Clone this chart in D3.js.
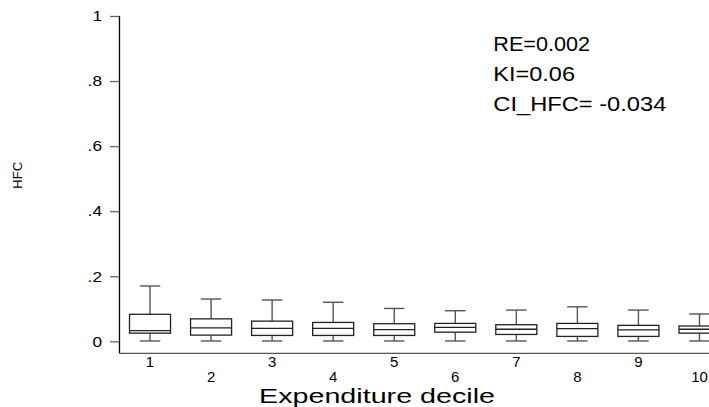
<!DOCTYPE html>
<html>
<head>
<meta charset="utf-8">
<script src="https://cdn.jsdelivr.net/npm/d3@7"></script>
<style>
  html, body { margin: 0; padding: 0; background: #fff; }
  svg { display: block; font-family: "Liberation Sans", Arial, sans-serif; }
</style>
</head>
<body>
<svg id="chart" width="709" height="407"></svg>
<script>
// ---- data ----
const deciles     = [1, 2, 3, 4, 5, 6, 7, 8, 9, 10];
const whiskerLow  = [0.001, 0.001, 0.001, 0.001, 0.001, 0.001, 0.001, 0.001, 0.001, 0.001];
const q1          = [0.025, 0.019, 0.018, 0.018, 0.018, 0.028, 0.021, 0.015, 0.015, 0.025];
const medians     = [0.033, 0.041, 0.040, 0.040, 0.036, 0.043, 0.037, 0.039, 0.035, 0.037];
const q3          = [0.083, 0.069, 0.062, 0.058, 0.054, 0.055, 0.051, 0.055, 0.049, 0.047];
const whiskerHigh = [0.170, 0.130, 0.127, 0.120, 0.101, 0.094, 0.096, 0.106, 0.096, 0.084];
const yTicks      = [0, 0.2, 0.4, 0.6, 0.8, 1];
const yTickLabels = ["0", ".2", ".4", ".6", ".8", "1"];
const annotations = ["RE=0.002", "KI=0.06", "CI_HFC= -0.034"];
const xTitle = "Expenditure decile";
const yTitle = "HFC";

const rows = deciles.map((d, i) => ({
  d, lo: whiskerLow[i], q1: q1[i], med: medians[i], q3: q3[i], hi: whiskerHigh[i]
}));

const svg = d3.select("#chart");

const x = d3.scaleBand()
  .domain(deciles)
  .range([119.5, 730])
  .paddingInner(0.328)
  .paddingOuter(0.164);

const y = d3.scaleLinear().domain([0, 1]).range([341.3, 16]);

const axisX0 = 119.5, axisY0 = 353.3;

// Y axis
const yAxis = d3.axisLeft(y)
  .tickValues(yTicks)
  .tickSize(9.5)
  .tickPadding(8)
  .tickFormat((d, i) => yTickLabels[i]);
const gy = svg.append("g").attr("transform", `translate(${axisX0},0)`).call(yAxis);
gy.select(".domain").remove();
gy.selectAll(".tick line").attr("stroke", "#666").attr("stroke-width", 1.3);
gy.selectAll(".tick text")
  .attr("font-size", 15).attr("fill", "#000")
  .attr("font-family", "Liberation Sans, Arial, sans-serif")
  .attr("transform", "scale(1.15,1)")
  .attr("x", -17.5 / 1.15);
svg.append("line")
  .attr("x1", axisX0).attr("x2", axisX0)
  .attr("y1", y(1)).attr("y2", axisY0)
  .attr("stroke", "#000").attr("stroke-width", 1.3);

// X axis
const xAxis = d3.axisBottom(x).tickSize(0).tickPadding(4);
const gx = svg.append("g").attr("transform", `translate(0,${axisY0})`).call(xAxis);
gx.select(".domain").remove();
gx.selectAll(".tick text")
  .attr("font-size", 15).attr("fill", "#000")
  .attr("font-family", "Liberation Sans, Arial, sans-serif")
  .attr("dy", null)
  .attr("y", (d, i) => i % 2 === 0 ? 13.6 : 28.8);
svg.append("line")
  .attr("x1", axisX0).attr("x2", 730)
  .attr("y1", axisY0).attr("y2", axisY0)
  .attr("stroke", "#555").attr("stroke-width", 1.3);

// Boxes
const bw = x.bandwidth();
const g = svg.append("g");
const box = g.selectAll("g.box").data(rows).join("g").attr("class", "box")
  .attr("transform", r => `translate(${x(r.d)},0)`);

box.append("line") // upper whisker
  .attr("x1", bw / 2).attr("x2", bw / 2)
  .attr("y1", r => y(r.q3)).attr("y2", r => y(r.hi))
  .attr("stroke", "#555").attr("stroke-width", 1.4);
box.append("line") // lower whisker
  .attr("x1", bw / 2).attr("x2", bw / 2)
  .attr("y1", r => y(r.q1)).attr("y2", r => y(r.lo))
  .attr("stroke", "#555").attr("stroke-width", 1.4);
box.append("line") // upper cap
  .attr("x1", bw / 4).attr("x2", bw * 3 / 4)
  .attr("y1", r => y(r.hi)).attr("y2", r => y(r.hi))
  .attr("stroke", "#555").attr("stroke-width", 1.4);
box.append("line") // lower cap
  .attr("x1", bw / 4).attr("x2", bw * 3 / 4)
  .attr("y1", r => y(r.lo)).attr("y2", r => y(r.lo))
  .attr("stroke", "#555").attr("stroke-width", 1.4);
box.append("rect")
  .attr("x", 0).attr("width", bw)
  .attr("y", r => y(r.q3)).attr("height", r => y(r.q1) - y(r.q3))
  .attr("fill", "#fff").attr("stroke", "#222").attr("stroke-width", 1.3);
box.append("line") // median
  .attr("x1", 0).attr("x2", bw)
  .attr("y1", r => y(r.med)).attr("y2", r => y(r.med))
  .attr("stroke", "#222").attr("stroke-width", 1.3);

// Annotations
const annLen = [96.7, 81.7, 173];
svg.append("g").selectAll("text").data(annotations).join("text")
  .attr("x", 493.3)
  .attr("y", (d, i) => 51.3 + i * 30)
  .attr("font-size", 20)
  .attr("textLength", (d, i) => annLen[i])
  .attr("lengthAdjust", "spacingAndGlyphs")
  .attr("fill", "#000")
  .text(d => d);

// Axis titles
svg.append("text")
  .attr("x", 259).attr("y", 402.5)
  .attr("font-size", 21)
  .attr("textLength", 236)
  .attr("lengthAdjust", "spacingAndGlyphs")
  .attr("fill", "#000")
  .text(xTitle);

svg.append("text")
  .attr("transform", "translate(21.7,175.3) rotate(-90)")
  .attr("text-anchor", "middle")
  .attr("font-size", 13)
  .attr("fill", "#000")
  .text(yTitle);
</script>
</body>
</html>
